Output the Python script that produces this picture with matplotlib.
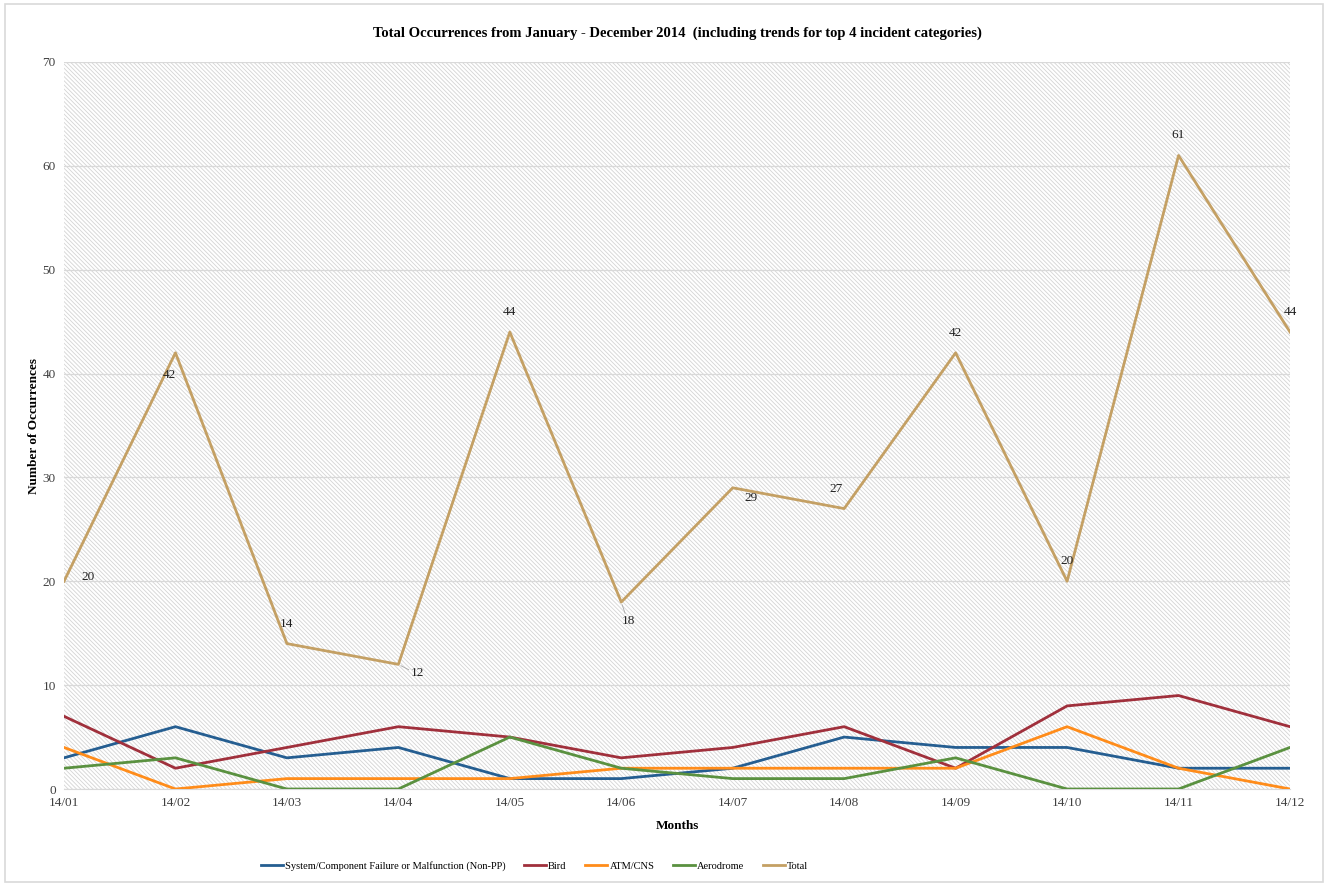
import matplotlib
matplotlib.use("Agg")
import matplotlib.pyplot as plt
from matplotlib.patches import Rectangle

months = ["14/01", "14/02", "14/03", "14/04", "14/05", "14/06",
          "14/07", "14/08", "14/09", "14/10", "14/11", "14/12"]
system_failure = [3, 6, 3, 4, 1, 1, 2, 5, 4, 4, 2, 2]
bird = [7, 2, 4, 6, 5, 3, 4, 6, 2, 8, 9, 6]
atm_cns = [4, 0, 1, 1, 1, 2, 2, 2, 2, 6, 2, 0]
aerodrome = [2, 3, 0, 0, 5, 2, 1, 1, 3, 0, 0, 4]
total = [20, 42, 14, 12, 44, 18, 29, 27, 42, 20, 61, 44]

series_names = ["System/Component Failure or Malfunction (Non-PP)", "Bird",
                "ATM/CNS", "Aerodrome", "Total"]
colors = ["#255E91", "#A0303C", "#FF8C1A", "#5A9140", "#C4A064"]

# label offsets in pixels (dx, dy up)
label_offsets = [(24, 4), (-6, -22), (0, 20), (19, -9), (0, 20), (7, -19),
                 (18, -10), (-8, 20), (0, 20), (0, 20), (0, 20), (0, 20)]
leader_idx = [3, 5]

plt.rcParams['font.family'] = ['Liberation Serif', 'DejaVu Serif']
plt.rcParams['hatch.linewidth'] = 0.6
plt.rcParams['hatch.color'] = '#d4d4d4'

fig = plt.figure(figsize=(13.3, 8.86), dpi=100)
fig.patches.append(Rectangle((5 / 1330, 4 / 886), 1318 / 1330, 878 / 886,
                             transform=fig.transFigure, fill=False,
                             edgecolor='#d9d9d9', linewidth=1.2))

ax = fig.add_axes([64 / 1330, 1 - 789 / 886, (1290 - 64) / 1330, (789 - 62) / 886])
x = list(range(len(months)))

ax.add_patch(Rectangle((0, 0), 1, 1, transform=ax.transAxes, facecolor='white',
                       hatch='\\' * 8, edgecolor='#d4d4d4', linewidth=0, zorder=0))

ax.set_xlim(0, len(months) - 1)
ax.set_ylim(0, 70)
ax.set_yticks(range(0, 71, 10))
ax.set_xticks(x)
ax.set_xticklabels(months)
ax.grid(axis='y', color='#d9d9d9', linewidth=0.9, zorder=1)
ax.set_axisbelow(True)
for s in ['top', 'right', 'left']:
    ax.spines[s].set_visible(False)
ax.spines['bottom'].set_color('#d9d9d9')
ax.tick_params(axis='both', length=0, labelsize=9.5, colors='#404040')
ax.tick_params(axis='x', pad=6)
ax.tick_params(axis='y', pad=6)

all_series = [system_failure, bird, atm_cns, aerodrome, total]
for vals, name, c in zip(all_series, series_names, colors):
    ax.plot(x, vals, color=c, linewidth=2.0, label=name, zorder=3,
            solid_joinstyle='round')

for i, v in enumerate(total):
    dx, dy = label_offsets[i]
    ax.annotate(str(v), (i, v), xytext=(dx * 0.72, dy * 0.72),
                textcoords='offset points', ha='center', va='center',
                fontsize=9.5, color='#202020', zorder=4)
    if i in leader_idx:
        ax.annotate("", (i, v), xytext=(dx * 0.72 * 0.55, dy * 0.72 * 0.6),
                    textcoords='offset points',
                    arrowprops=dict(arrowstyle='-', color='#a6a6a6', lw=0.6,
                                    shrinkA=0, shrinkB=2), zorder=4)

ax.set_title("Total Occurrences from January - December 2014  (including trends for top 4 incident categories)",
             fontsize=10.5, fontweight='bold', pad=18)
ax.set_xlabel("Months", fontsize=9.5, fontweight='bold', labelpad=8)
ax.set_ylabel("Number of Occurrences", fontsize=9.5, fontweight='bold', labelpad=2)

leg = ax.legend(loc='center', bbox_to_anchor=((534.5 - 64) / 1226, -0.106),
                ncol=5, frameon=False, fontsize=7.5, handlelength=2.1,
                columnspacing=1.8, handletextpad=0.2)

fig.savefig("out.png", dpi=100)
